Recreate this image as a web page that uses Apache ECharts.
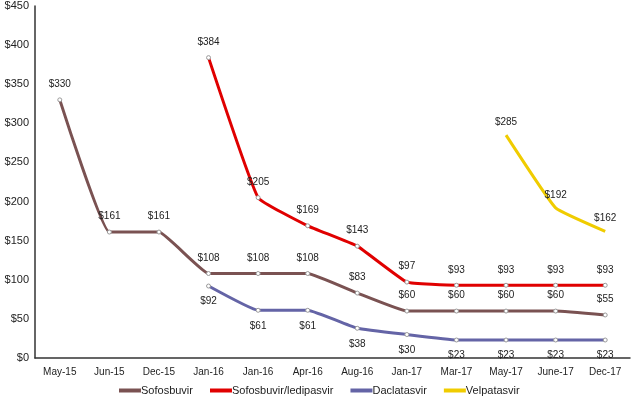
<!DOCTYPE html>
<html><head><meta charset="utf-8">
<script src="https://cdn.jsdelivr.net/npm/echarts@6/dist/echarts.min.js"></script>
<style>html,body{margin:0;padding:0;background:#fff}#c{width:636px;height:403px}</style>
</head><body><div id="c"></div>
<script>
const categories = ['May-15','Jun-15','Dec-15','Jan-16','Jan-16','Apr-16','Aug-16','Jan-17','Mar-17','May-17','June-17','Dec-17'];
const sofosbuvir = [330,161,161,108,108,108,83,60,60,60,60,55];
const ledipasvir = [null,null,null,384,205,169,143,97,93,93,93,93];
const daclatasvir = [null,null,null,92,61,61,38,30,23,23,23,23];
const velpatasvir = [null,null,null,null,null,null,null,null,null,285,192,162];
const seriesNames = ['Sofosbuvir','Sofosbuvir/ledipasvir','Daclatasvir','Velpatasvir'];
const colors = ['#7A5252','#E00000','#6464A6','#F0CC00'];

const chart = echarts.init(document.getElementById('c'));
const font = 'Liberation Sans, Arial, sans-serif';
function mk(i, data, pos, showSym) {
  return {
    name: seriesNames[i], type: 'line', data, smooth: 0.1, connectNulls: false,
    color: colors[i],
    lineStyle: {color: colors[i], width: 3},
    itemStyle: {color: '#fff', borderColor: '#999', borderWidth: 1},
    symbol: 'circle', symbolSize: showSym ? 4 : 0, showSymbol: true,
    label: {show: true, position: pos, distance: 8, formatter: p => '$' + p.value,
      color: '#222', fontSize: 10, fontFamily: font},
    emphasis: {disabled: true}
  };
}
chart.setOption({
  animation: false,
  textStyle: {fontFamily: font},
  grid: {left: 35, right: 6, top: 6, bottom: 45},
  xAxis: {type: 'category', data: categories, boundaryGap: true,
    axisLine: {lineStyle: {color: '#333', width: 1.5}},
    axisTick: {show: false},
    axisLabel: {color: '#222', fontSize: 10, fontFamily: font, margin: 9, interval: 0}},
  yAxis: {type: 'value', min: 0, max: 450, interval: 50,
    axisLine: {show: true, lineStyle: {color: '#333', width: 1.5}},
    axisTick: {show: false}, splitLine: {show: false},
    axisLabel: {color: '#222', fontSize: 11, fontFamily: font, formatter: v => '$' + v, margin: 6}},
  legend: {bottom: 2, left: 114, itemWidth: 22, itemHeight: 4, itemGap: 17,
    icon: 'rect',
    textStyle: {color: '#222', fontSize: 11, fontFamily: font, padding: [0,0,0,-5]},
    data: seriesNames.map((n, i) => ({name: n, itemStyle: {color: colors[i], borderWidth: 0}}))},
  series: [
    mk(0, sofosbuvir, 'top', true),
    mk(1, ledipasvir, 'top', true),
    mk(2, daclatasvir, 'bottom', true),
    mk(3, velpatasvir, 'top', false)
  ]
});
</script></body></html>
